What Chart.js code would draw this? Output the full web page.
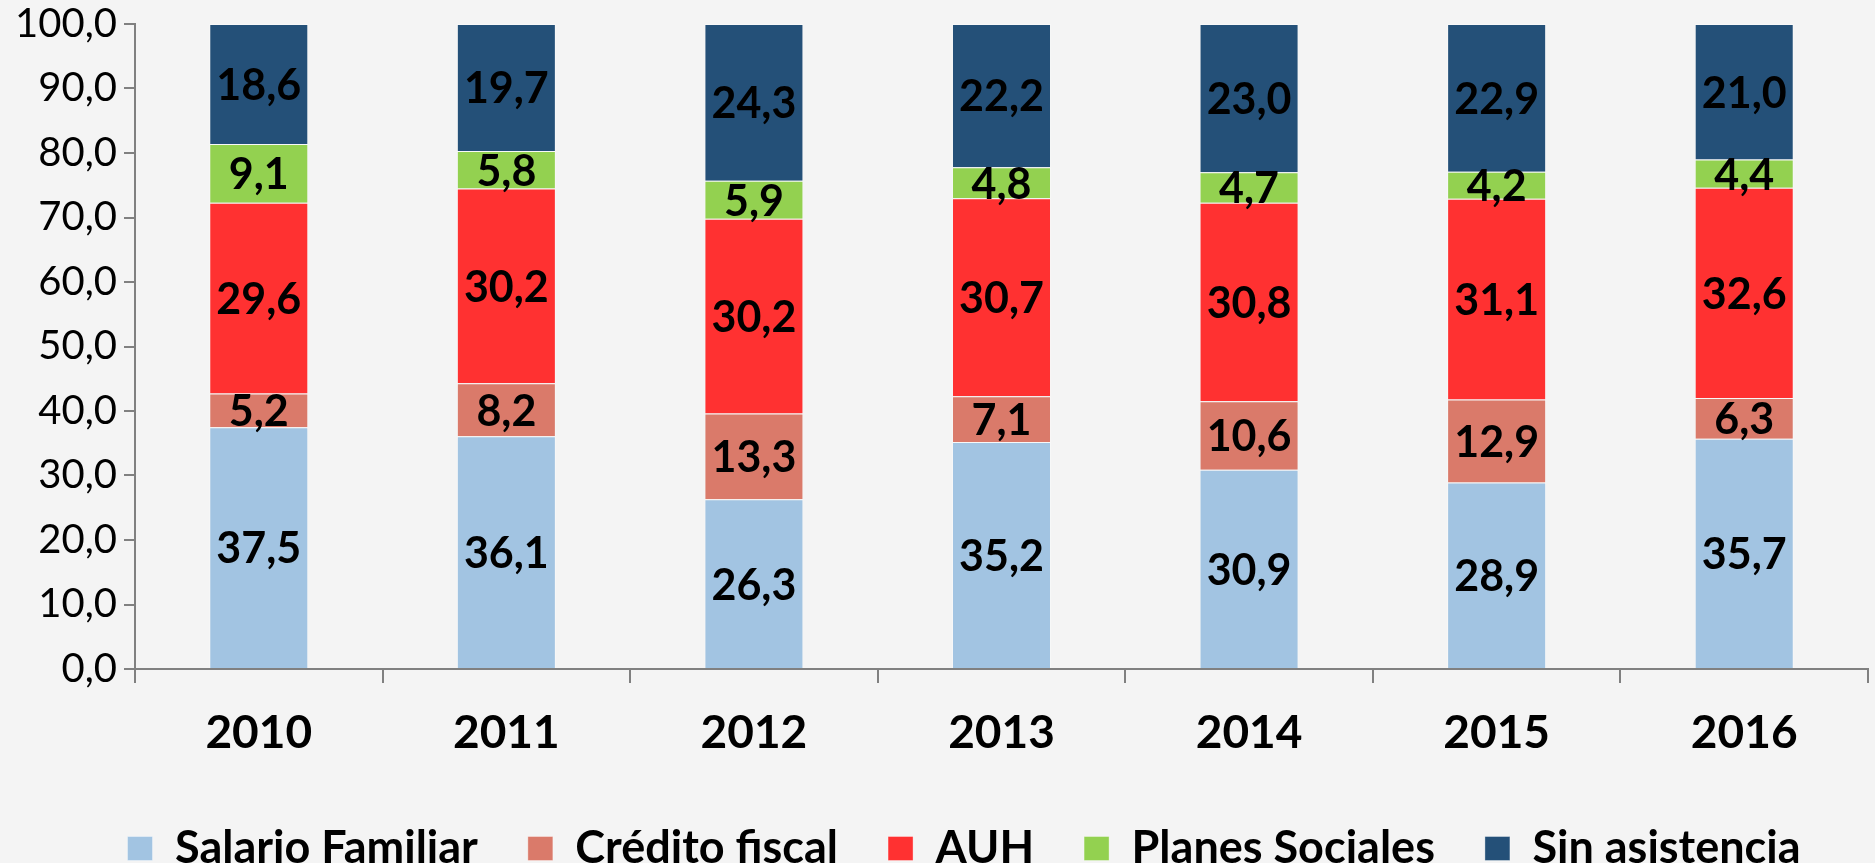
<!DOCTYPE html>
<html>
<head>
<meta charset="utf-8">
<script src="https://cdn.jsdelivr.net/npm/chart.js@4"></script>
<style>
    html, body { margin: 0; padding: 0; background: #F4F4F4; }
    #wrap { width: 1875px; height: 863px; position: relative; }
</style>
</head>
<body>
<div id="wrap"><canvas id="chart"></canvas></div>
<script>
// Chart data
const years = ['2010', '2011', '2012', '2013', '2014', '2015', '2016'];
const seriesNames = ['Salario Familiar', 'Crédito fiscal', 'AUH', 'Planes Sociales', 'Sin asistencia'];
const salarioFamiliar = [37.5, 36.1, 26.3, 35.2, 30.9, 28.9, 35.7];
const creditoFiscal = [5.2, 8.2, 13.3, 7.1, 10.6, 12.9, 6.3];
const auh = [29.6, 30.2, 30.2, 30.7, 30.8, 31.1, 32.6];
const planesSociales = [9.1, 5.8, 5.9, 4.8, 4.7, 4.2, 4.4];
const sinAsistencia = [18.6, 19.7, 24.3, 22.2, 23.0, 22.9, 21.0];
const yTicks = [0, 10, 20, 30, 40, 50, 60, 70, 80, 90, 100];

const colors = ['#A2C4E2', '#DA7A6A', '#FF3131', '#93D150', '#245078'];
const FONT = 'Lato, "Open Sans", sans-serif';

const fmt = v => v.toFixed(1).replace('.', ',');

// draws the value in the middle of each stacked segment
const segmentLabels = {
    id: 'segmentLabels',
    afterDatasetsDraw(chart) {
        const ctx = chart.ctx;
        ctx.save();
        ctx.font = 'bold 43px ' + FONT;
        ctx.fillStyle = '#000';
        ctx.textAlign = 'center';
        ctx.textBaseline = 'middle';
        chart.data.datasets.forEach((ds, i) => {
            const meta = chart.getDatasetMeta(i);
            meta.data.forEach((bar, j) => {
                const mid = (bar.y + bar.base) / 2;
                ctx.fillText(fmt(ds.data[j]), bar.x, mid + 2);
            });
        });
        ctx.restore();
    }
};

// keep the legend band short and nudge it right like the original
const legendTweak = {
    id: 'legendTweak',
    afterInit(chart) {
        const legend = chart.legend;
        const fit = legend.fit;
        const draw = legend.draw;
        legend.fit = function () {
            fit.call(this);
            this.height = 87;
        };
        legend.draw = function () {
            const ctx = this.ctx;
            ctx.save();
            ctx.translate(30, 0);
            draw.call(this);
            ctx.restore();
        };
    }
};

const datasets = [salarioFamiliar, creditoFiscal, auh, planesSociales, sinAsistencia].map((data, i) => ({
    label: seriesNames[i],
    data: data,
    backgroundColor: colors[i],
    borderColor: 'rgba(255,255,255,0.35)',
    borderWidth: 1,
    barPercentage: 0.8,
    categoryPercentage: 0.5
}));

new Chart(document.getElementById('chart'), {
    type: 'bar',
    data: { labels: years, datasets: datasets },
    options: {
        responsive: true,
        maintainAspectRatio: false,
        animation: false,
        layout: { autoPadding: false, padding: { top: 24, right: 7, left: 0, bottom: 0 } },
        plugins: {
            tooltip: { enabled: false },
            legend: {
                position: 'bottom',
                labels: {
                    font: { family: FONT, size: 45, weight: 'bold' },
                    color: '#000',
                    boxWidth: 25,
                    boxHeight: 24,
                    padding: 50
                }
            }
        },
        scales: {
            x: {
                stacked: true,
                grid: { drawOnChartArea: false, color: '#808080', tickLength: 14, lineWidth: 2 },
                border: { color: '#808080', width: 2 },
                ticks: { font: { family: FONT, size: 46, weight: 'bold' }, color: '#000', padding: 23 },
                afterFit(scale) {
                    scale.height = 107;
                    scale.paddingLeft = 0;
                    scale.paddingRight = 0;
                }
            },
            y: {
                stacked: true,
                min: 0,
                max: 100,
                afterBuildTicks(scale) { scale.ticks = yTicks.map(v => ({ value: v })); },
                grid: { drawOnChartArea: false, color: '#808080', tickLength: 11, lineWidth: 2 },
                border: { color: '#808080', width: 2 },
                ticks: {
                    font: { family: FONT, size: 40 },
                    color: '#000',
                    padding: 7,
                    callback: v => fmt(v)
                },
                afterFit(scale) {
                    scale.width = 135;
                    scale.paddingTop = 0;
                    scale.paddingBottom = 0;
                }
            }
        }
    },
    plugins: [segmentLabels, legendTweak]
});
</script>
</body>
</html>
